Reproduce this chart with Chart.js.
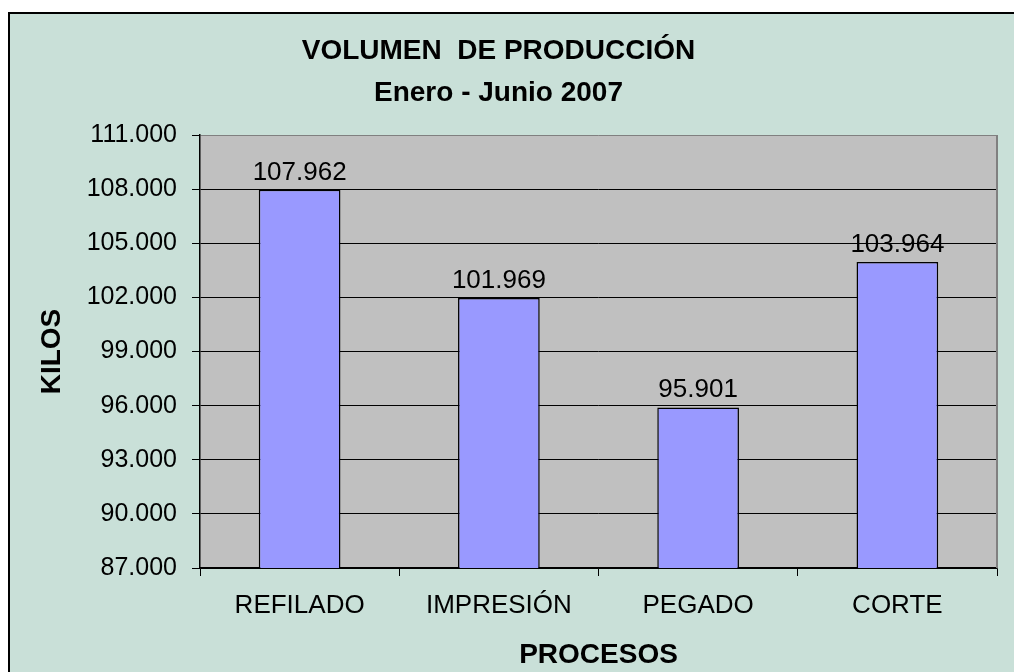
<!DOCTYPE html>
<html>
<head>
<meta charset="utf-8">
<script src="https://cdn.jsdelivr.net/npm/chart.js@4"></script>
<style>
  body { margin: 0; background: #fff; overflow: hidden; }
  #frame {
    position: absolute; left: 8px; top: 12px; width: 1100px; height: 800px;
    background: #c9e0d8; border-left: 2px solid #000; border-top: 2px solid #000;
  }
  #chart { position: absolute; left: 0; top: 0; }
</style>
</head>
<body>
<div id="frame"></div>
<canvas id="chart" width="1014" height="672"></canvas>
<script>
const categories = ["REFILADO", "IMPRESIÓN", "PEGADO", "CORTE"];
const kilos = [107962, 101969, 95901, 103964];
const yMin = 87000;
const yMax = 111000;
const yStep = 3000;

function fmt(v) {
  return v.toString().replace(/\B(?=(\d{3})+(?!\d))/g, ".");
}

const font = "'Liberation Sans', Arial, sans-serif";

// gray plot area + right border + value labels
const plotBox = {
  id: "plotBox",
  beforeDraw(chart) {
    const { ctx } = chart;
    const { left, top, right, bottom } = chart.chartArea;
    ctx.save();
    ctx.fillStyle = "#c0c0c0";
    ctx.fillRect(left, top, right - left, bottom - top);
    ctx.restore();
  },
  afterDatasetsDraw(chart) {
    const { ctx } = chart;
    const { top, right, bottom } = chart.chartArea;
    ctx.save();
    ctx.strokeStyle = "#808080";
    ctx.lineWidth = 2;
    ctx.beginPath();
    ctx.moveTo(right, top);
    ctx.lineTo(right, bottom);
    ctx.stroke();
    ctx.fillStyle = "#000";
    ctx.font = "26px " + font;
    ctx.textAlign = "center";
    ctx.textBaseline = "alphabetic";
    chart.getDatasetMeta(0).data.forEach((bar, i) => {
      ctx.fillText(fmt(kilos[i]), bar.x, bar.y - 10);
    });
    ctx.restore();
  }
};

new Chart(document.getElementById("chart"), {
  type: "bar",
  plugins: [plotBox],
  data: {
    labels: categories,
    datasets: [
      {
        label: "Kilos",
        data: kilos,
        backgroundColor: "#9999ff",
        borderColor: "#000",
        borderWidth: 1.5,
        categoryPercentage: 1,
        barPercentage: 0.41,
      },
    ],
  },
  options: {
    responsive: false,
    animation: false,
    devicePixelRatio: 1,
    layout: { padding: { left: 0, right: 17, top: 0, bottom: 0 } },
    plugins: {
      legend: { display: false },
      tooltip: { enabled: false },
      title: {
        display: true,
        text: ["VOLUMEN  DE PRODUCCIÓN", "Enero - Junio 2007"],
        color: "#000",
        font: { family: font, size: 28, weight: "bold", lineHeight: 1.5 },
        padding: { top: 30, bottom: 21 },
      },
    },
    scales: {
      x: {
        afterFit: (s) => { s.height = 104; },
        border: { color: "#000", width: 1.5 },
        grid: {
          offset: true,
          drawOnChartArea: false,
          color: "#000",
          tickLength: 8,
        },
        ticks: {
          color: "#000",
          padding: 14,
          font: { family: font, size: 26 },
          maxRotation: 0,
        },
        title: {
          display: true,
          text: "PROCESOS",
          color: "#000",
          font: { family: font, size: 28, weight: "bold" },
          padding: { top: 0, bottom: 0 },
        },
      },
      y: {
        min: yMin,
        max: yMax,
        afterFit: (s) => { s.width = 200; },
        border: { color: "#000", width: 1.5 },
        grid: {
          color: (c) => (c.tick && c.tick.value === yMax ? "#808080" : "#000"),
          tickColor: "#000",
          tickLength: 8,
          lineWidth: 1,
        },
        ticks: {
          stepSize: yStep,
          color: "#000",
          padding: 15,
          font: { family: font, size: 25 },
          callback: (v) => fmt(v),
        },
        title: {
          display: true,
          text: "KILOS",
          color: "#000",
          font: { family: font, size: 28, weight: "bold" },
          padding: { top: 35, bottom: 0 },
        },
      },
    },
  },
});
</script>
</body>
</html>
